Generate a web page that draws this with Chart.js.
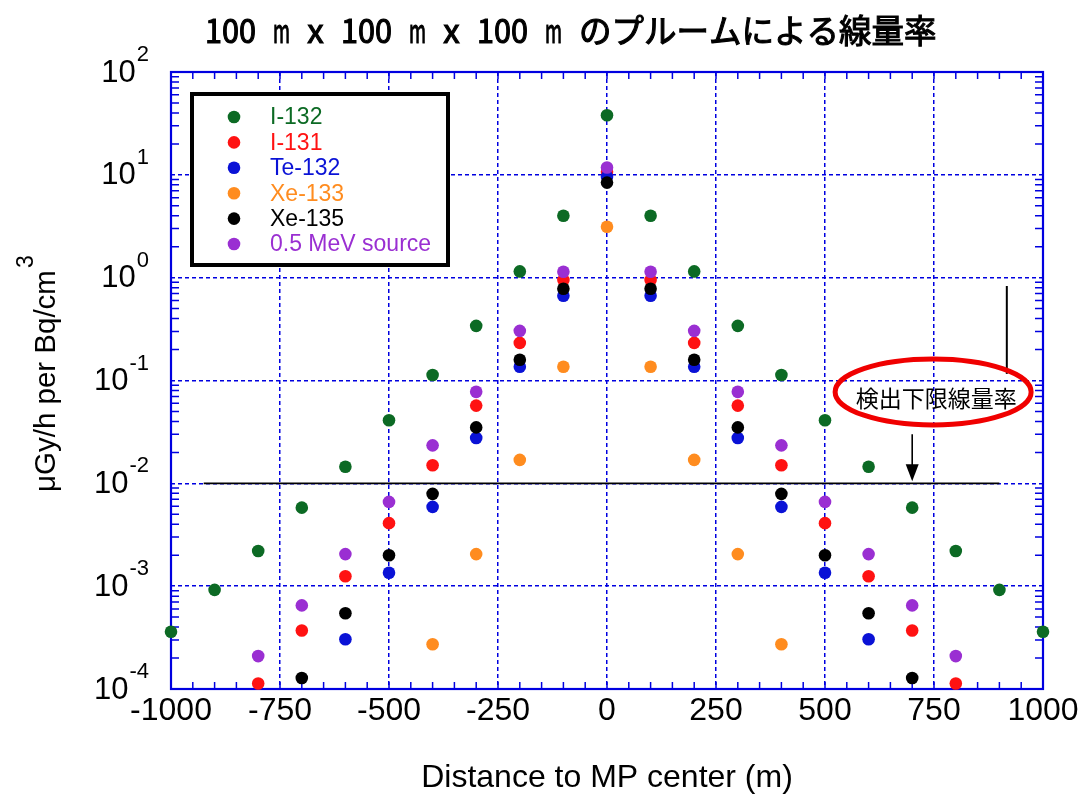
<!DOCTYPE html>
<html lang="ja">
<head>
<meta charset="utf-8">
<title>100 m x 100 m x 100 m のプルームによる線量率</title>
<script src="https://cdn.jsdelivr.net/npm/chart.js@4.4.1/dist/chart.umd.min.js"></script>
<style>
  html, body { margin: 0; padding: 0; background: #fff; }
  #wrap { position: relative; width: 1083px; height: 794px; }
</style>
</head>
<body>
<div id="wrap"><canvas id="chart"></canvas></div>
<script>
const chartTitle = '100 m x 100 m x 100 m のプルームによる線量率';
const xAxisTitle = 'Distance to MP center (m)';
const yAxisTitle = 'μGy/h per Bq/cm';
const yAxisTitleSup = '3';

// distance from the MP centre (m)
const distances = [-1000, -900, -800, -700, -600, -500, -400, -300, -200, -100, 0,
  100, 200, 300, 400, 500, 600, 700, 800, 900, 1000];

const seriesNames = ['I-132', 'I-131', 'Te-132', 'Xe-133', 'Xe-135', '0.5 MeV source'];
const seriesColors = ['#0c6a24', '#ff1212', '#0a12d6', '#ff8c1f', '#000000', '#9a2fd2'];

// dose rate, µGy/h per Bq/cm3 (null = not plotted)
const i132 = [3.6e-4, 9.2e-4, 2.2e-3, 5.8e-3, 1.45e-2, 4.1e-2, 0.113, 0.34, 1.15, 4.0, 38,
  4.0, 1.15, 0.34, 0.113, 4.1e-2, 1.45e-2, 5.8e-3, 2.2e-3, 9.2e-4, 3.6e-4];
const i131 = [null, null, 1.13e-4, 3.7e-4, 1.25e-3, 4.1e-3, 1.5e-2, 5.7e-2, 0.232, 0.95, 10.7,
  0.95, 0.232, 5.7e-2, 1.5e-2, 4.1e-3, 1.25e-3, 3.7e-4, 1.13e-4, null, null];
const te132 = [null, null, null, null, 3.05e-4, 1.35e-3, 5.9e-3, 2.76e-2, 0.136, 0.667, 9.6,
  0.667, 0.136, 2.76e-2, 5.9e-3, 1.35e-3, 3.05e-4, null, null, null, null];
const xe133 = [null, null, null, null, null, null, 2.72e-4, 2.05e-3, 1.69e-2, 0.136, 3.13,
  0.136, 1.69e-2, 2.05e-3, 2.72e-4, null, null, null, null, null, null];
const xe135 = [null, null, null, 1.28e-4, 5.46e-4, 2.0e-3, 7.9e-3, 3.5e-2, 0.159, 0.78, 8.4,
  0.78, 0.159, 3.5e-2, 7.9e-3, 2.0e-3, 5.46e-4, 1.28e-4, null, null, null];
const mev05 = [null, null, 2.09e-4, 6.5e-4, 2.05e-3, 6.6e-3, 2.34e-2, 7.76e-2, 0.304, 1.14, 11.8,
  1.14, 0.304, 7.76e-2, 2.34e-2, 6.6e-3, 2.05e-3, 6.5e-4, 2.09e-4, null, null];
const seriesValues = [i132, i131, te132, xe133, xe135, mev05];

const xTickStep = 250;
const xMinorStep = 50;
const yDecades = [-4, -3, -2, -1, 0, 1, 2];

// detection limit annotation
const limitLabel = '検出下限線量率';
const limitValue = 0.01;
const limitLineX = [-925, 900];
const pointerX = 917;
const pointerY = [0.116, 0.83];
const arrowX = 700;
const arrowY = [0.030, 0.0105];
const labelAnchor = { x: 748, y: 0.0775 };

const BLUE = '#0000e0';
const FONT = '"Liberation Sans", Arial, sans-serif';

const datasets = seriesNames.map((name, s) => ({
  label: name,
  data: distances
    .map((d, i) => ({ x: d, y: seriesValues[s][i] }))
    .filter((p) => p.y !== null),
  backgroundColor: seriesColors[s],
  borderColor: seriesColors[s],
  pointRadius: 6.3,
  pointBorderWidth: 0,
  showLine: false,
  clip: false,
  order: seriesNames.length - s,
}));

datasets.push({
  label: 'limit',
  data: limitLineX.map((x) => ({ x, y: limitValue })),
  showLine: true,
  borderColor: '#000',
  borderWidth: 1.6,
  pointRadius: 0,
  order: 20,
});
datasets.push({
  label: 'pointer',
  data: pointerY.map((y) => ({ x: pointerX, y })),
  showLine: true,
  borderColor: '#000',
  borderWidth: 2,
  pointRadius: 0,
  order: 20,
});

function isDecade(v) {
  const l = Math.log10(v);
  return Math.abs(l - Math.round(l)) < 1e-6;
}

function drawTitle(ctx) {
  ctx.save();
  ctx.font = '33px "Noto Sans CJK JP"';
  ctx.fillStyle = '#000';
  ctx.strokeStyle = '#000';
  ctx.lineWidth = 1.1;
  ctx.textAlign = 'center';
  ctx.textBaseline = 'alphabetic';
  let x = 205;
  for (const ch of chartTitle) {
    const cell = ch.charCodeAt(0) > 0xff ? 32.5 : 17;
    const w = ctx.measureText(ch).width;
    const s = w > cell ? cell / w : 1;
    ctx.save();
    ctx.translate(x + cell / 2, 43);
    ctx.scale(s, 1);
    ctx.fillText(ch, 0, 0);
    if (ch !== ' ') ctx.strokeText(ch, 0, 0);
    ctx.restore();
    x += cell;
  }
  ctx.restore();
}

const decorations = {
  id: 'decorations',
  beforeDatasetsDraw(chart) {
    const { ctx, chartArea: a } = chart;
    const xs = chart.scales.x;
    const ys = chart.scales.y;
    ctx.save();
    ctx.strokeStyle = BLUE;
    ctx.lineWidth = 1.5;
    ctx.beginPath();
    for (let v = xs.min; v <= xs.max; v += xMinorStep) {
      const px = xs.getPixelForValue(v);
      ctx.moveTo(px, a.bottom); ctx.lineTo(px, a.bottom - 7);
      ctx.moveTo(px, a.top); ctx.lineTo(px, a.top + 7);
    }
    yDecades.slice(0, -1).forEach((k) => {
      for (let m = 2; m <= 9; m++) {
        const py = ys.getPixelForValue(m * Math.pow(10, k));
        ctx.moveTo(a.left, py); ctx.lineTo(a.left + 8, py);
        ctx.moveTo(a.right, py); ctx.lineTo(a.right - 8, py);
      }
    });
    ctx.stroke();
    ctx.lineWidth = 2.2;
    ctx.strokeRect(a.left, a.top, a.right - a.left, a.bottom - a.top);
    ctx.restore();
  },
  afterDatasetsDraw(chart) {
    const { ctx } = chart;
    const xs = chart.scales.x;
    const ys = chart.scales.y;
    ctx.save();

    // legend box
    ctx.fillStyle = '#fff';
    ctx.fillRect(192, 94, 256, 171);
    ctx.lineWidth = 4;
    ctx.strokeStyle = '#000';
    ctx.strokeRect(192, 94, 256, 171);
    ctx.font = '23px ' + FONT;
    ctx.textAlign = 'left';
    ctx.textBaseline = 'middle';
    seriesNames.forEach((name, i) => {
      const y = 117 + i * 25.4;
      ctx.fillStyle = seriesColors[i];
      ctx.beginPath();
      ctx.arc(234, y, 6.3, 0, Math.PI * 2);
      ctx.fill();
      ctx.fillText(name, 270, y + 1);
    });

    // detection limit label
    const cx = xs.getPixelForValue(labelAnchor.x);
    const cy = ys.getPixelForValue(labelAnchor.y);
    ctx.strokeStyle = '#f00000';
    ctx.lineWidth = 5;
    ctx.beginPath();
    ctx.ellipse(cx, cy, 98, 33, 0, 0, Math.PI * 2);
    ctx.stroke();
    ctx.fillStyle = '#000';
    ctx.font = '23px "Noto Sans CJK JP"';
    ctx.textAlign = 'center';
    ctx.fillText(limitLabel, cx + 3, cy + 6);

    // arrow down to the limit line
    const ax = xs.getPixelForValue(arrowX);
    const ay0 = ys.getPixelForValue(arrowY[0]);
    const ay1 = ys.getPixelForValue(arrowY[1]);
    ctx.strokeStyle = '#000';
    ctx.lineWidth = 1.6;
    ctx.beginPath();
    ctx.moveTo(ax, ay0);
    ctx.lineTo(ax, ay1 - 10);
    ctx.stroke();
    ctx.beginPath();
    ctx.moveTo(ax - 6.5, ay1 - 17);
    ctx.lineTo(ax + 6.5, ay1 - 17);
    ctx.lineTo(ax, ay1);
    ctx.closePath();
    ctx.fill();
    ctx.restore();
  },
  afterDraw(chart) {
    const { ctx } = chart;
    const ys = chart.scales.y;
    drawTitle(ctx);

    ctx.save();
    ctx.fillStyle = '#000';
    ctx.textAlign = 'right';
    ctx.textBaseline = 'middle';
    yDecades.forEach((k) => {
      const y = ys.getPixelForValue(Math.pow(10, k));
      const exp = String(k);
      ctx.font = '22px ' + FONT;
      const ew = ctx.measureText(exp).width;
      ctx.fillText(exp, 149, y - 17);
      ctx.font = '31px ' + FONT;
      ctx.fillText('10', 149 - ew - 1, y + 1);
    });

    ctx.translate(55, 492);
    ctx.rotate(-Math.PI / 2);
    ctx.textAlign = 'left';
    ctx.textBaseline = 'alphabetic';
    ctx.font = '29.5px ' + FONT;
    ctx.fillText(yAxisTitle, 0, 0);
    const w = ctx.measureText(yAxisTitle).width;
    ctx.font = '23px ' + FONT;
    ctx.fillText(yAxisTitleSup, w + 2, -22);
    ctx.restore();
  },
};

new Chart(document.getElementById('chart'), {
  type: 'scatter',
  data: { datasets },
  options: {
    responsive: true,
    maintainAspectRatio: false,
    animation: false,
    events: [],
    layout: { padding: { top: 72, right: 40, left: 0, bottom: 0 } },
    plugins: {
      legend: { display: false },
      title: { display: false },
      tooltip: { enabled: false },
    },
    scales: {
      x: {
        type: 'linear',
        min: -1000,
        max: 1000,
        afterFit: (scale) => { scale.height = 105; },
        ticks: {
          stepSize: xTickStep,
          color: '#000',
          padding: 3,
          font: { family: FONT, size: 32 },
          callback: (v) => String(v),
        },
        grid: { color: BLUE, lineWidth: 1.5, drawTicks: false },
        border: { display: false, dash: [4, 3] },
        title: {
          display: true,
          text: xAxisTitle,
          color: '#000',
          padding: 0,
          font: { family: FONT, size: 32, lineHeight: 1 },
        },
      },
      y: {
        type: 'logarithmic',
        min: 1e-4,
        max: 100,
        afterFit: (scale) => { scale.width = 171; },
        ticks: { display: false },
        grid: {
          color: (c) => (c.tick && isDecade(c.tick.value) ? BLUE : 'rgba(0,0,0,0)'),
          lineWidth: 1.5,
          drawTicks: false,
        },
        border: { display: false, dash: [4, 3] },
      },
    },
  },
  plugins: [decorations],
});
</script>
</body>
</html>
